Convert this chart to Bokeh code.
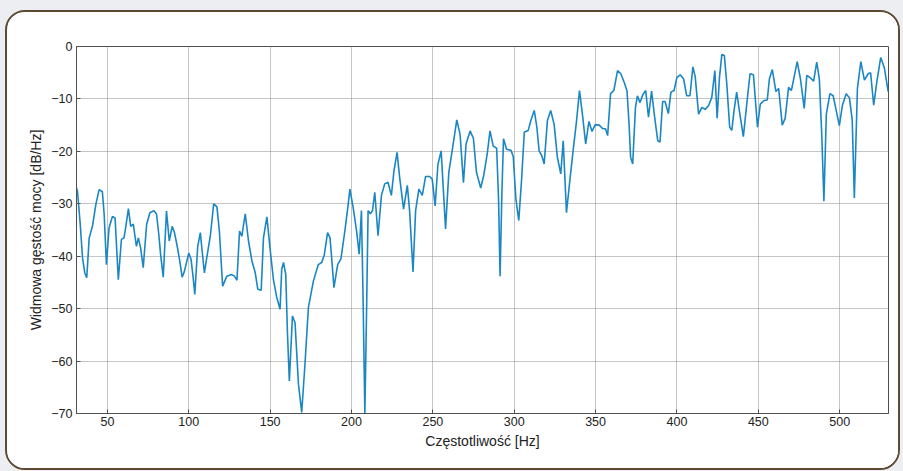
from bokeh.plotting import figure
from bokeh.models import FixedTicker, Range1d
from bokeh.embed import file_html
from bokeh.resources import INLINE

freq = [30.0, 31.6, 33.3, 34.7, 36.1, 37.3, 38.8, 40.8, 42.9, 44.9, 46.9, 48.0, 49.4, 51.0, 53.1, 54.7,
        56.7, 58.6, 60.2, 61.2, 62.9, 64.3, 65.9, 67.8, 69.0, 70.4, 72.0, 74.1, 76.1, 78.6, 80.2, 81.6,
        82.7, 84.3, 86.3, 88.0, 89.8, 91.2, 92.9, 94.5, 95.9, 97.3, 100.0, 101.4, 102.7, 103.7, 105.5,
        107.1, 108.2, 109.6, 111.2, 113.3, 115.3, 117.3, 118.8, 120.8, 123.4, 126.1, 128.1, 129.6, 131.2,
        132.6, 134.7, 136.7, 138.8, 140.8, 142.4, 144.5, 145.9, 148.0, 150.0, 152.0, 154.1, 156.1, 157.1,
        158.2, 159.6, 160.6, 161.8, 163.7, 165.3, 167.4, 169.4, 171.4, 173.5, 176.6, 179.6, 181.7, 183.3,
        185.3, 186.8, 187.8, 189.2, 191.5, 193.5, 196.0, 198.0, 199.0, 201.0, 203.1, 204.7, 206.1, 207.1,
        208.2, 209.2, 210.2, 211.6, 212.9, 214.3, 216.3, 218.4, 220.4, 222.4, 224.5, 226.1, 228.0, 229.6,
        232.0, 234.3, 235.7, 237.8, 239.4, 241.4, 243.5, 245.5, 248.0, 249.6, 251.4, 253.1, 255.1, 257.8,
        259.8, 262.2, 264.7, 266.7, 268.8, 270.4, 272.9, 274.9, 276.8, 279.4, 281.3, 283.4, 285.1, 287.1,
        289.2, 290.4, 291.3, 292.4, 293.4, 295.3, 298.0, 299.4, 301.0, 302.8, 304.6, 306.2, 308.6, 310.2,
        312.3, 313.9, 315.3, 316.9, 318.4, 320.4, 322.4, 324.5, 326.5, 328.6, 330.1, 332.1, 334.2, 336.5,
        338.3, 340.1, 342.0, 343.9, 345.9, 347.8, 349.8, 352.2, 354.4, 356.1, 357.4, 359.2, 361.2, 363.5,
        365.5, 367.8, 369.3, 370.6, 371.5, 372.8, 374.5, 375.7, 377.3, 379.0, 380.8, 382.5, 384.4, 386.3,
        388.2, 389.6, 391.2, 392.7, 394.7, 396.3, 398.2, 400.0, 402.0, 404.1, 406.0, 408.0, 409.8, 411.2,
        413.3, 415.3, 417.3, 419.4, 421.4, 423.3, 424.7, 426.1, 427.6, 429.1, 430.6, 432.4, 433.7, 435.1,
        436.7, 438.8, 440.8, 442.9, 444.9, 447.0, 449.5, 451.2, 453.5, 455.5, 456.8, 458.6, 460.8, 462.5,
        464.7, 466.5, 468.6, 470.3, 473.9, 475.9, 478.2, 479.8, 482.0, 484.0, 485.9, 487.5, 489.0, 490.3,
        491.8, 494.0, 496.0, 498.2, 499.8, 501.7, 504.0, 506.0, 507.7, 509.0, 510.9, 513.0, 515.2, 517.5,
        519.0, 520.9, 522.8, 525.2, 527.4, 529.8]

psd = [-26.0, -27.6, -33.9, -40.3, -43.2, -44.1, -36.5, -34.3, -30.1, -27.3, -27.7, -32.0, -41.6, -34.6,
       -32.4, -32.7, -44.5, -36.8, -36.5, -34.6, -30.9, -34.3, -33.9, -38.1, -36.5, -38.4, -42.2, -33.9,
       -31.7, -31.3, -32.0, -35.9, -39.7, -44.0, -31.4, -37.1, -34.3, -35.5, -38.1, -41.0, -44.0, -42.9,
       -39.4, -40.6, -44.1, -47.3, -38.1, -35.5, -39.0, -43.2, -40.0, -36.0, -30.0, -30.6, -35.2, -45.7,
       -43.8, -43.5, -43.8, -44.6, -35.2, -36.2, -31.9, -37.1, -40.9, -43.1, -46.3, -46.5, -36.5, -32.5,
       -38.7, -44.4, -47.9, -50.1, -42.5, -41.2, -43.5, -54.3, -63.8, -51.4, -52.7, -64.4, -69.8, -60.6,
       -49.8, -44.7, -41.6, -41.2, -39.7, -35.5, -36.5, -40.3, -46.0, -41.6, -40.5, -35.0, -30.0, -27.2,
       -30.7, -35.1, -39.6, -31.3, -47.8, -70.0, -51.6, -31.3, -31.9, -31.3, -27.8, -36.1, -28.4, -26.2,
       -25.9, -28.4, -23.7, -20.2, -25.0, -31.0, -26.5, -31.3, -43.0, -31.3, -27.2, -28.4, -24.8, -24.8,
       -25.3, -30.4, -22.5, -19.9, -34.8, -24.0, -19.2, -14.0, -16.7, -26.0, -18.6, -16.1, -17.5, -24.0,
       -27.0, -24.5, -20.5, -16.1, -19.0, -19.4, -29.4, -43.8, -28.2, -17.6, -19.6, -19.8, -21.0, -29.0,
       -33.2, -25.0, -16.3, -16.0, -14.1, -12.2, -15.4, -19.9, -20.8, -22.4, -14.1, -12.2, -14.8, -21.1,
       -24.3, -18.0, -31.7, -25.5, -19.0, -14.2, -8.4, -13.2, -18.6, -14.3, -16.2, -14.9, -15.0, -15.7,
       -15.7, -17.0, -9.0, -8.4, -4.6, -5.2, -7.0, -8.5, -15.0, -21.1, -22.4, -11.6, -9.4, -10.7, -9.2,
       -8.4, -13.5, -8.5, -13.5, -18.0, -18.2, -10.5, -10.5, -12.8, -8.7, -8.4, -5.9, -5.4, -6.2, -9.4,
       -9.4, -3.9, -5.7, -12.9, -11.6, -12.0, -11.3, -9.7, -4.6, -13.7, -6.0, -1.5, -1.7, -7.0, -15.4,
       -16.0, -12.2, -8.7, -13.2, -17.2, -11.0, -5.2, -5.4, -15.4, -11.0, -10.3, -10.2, -6.2, -4.4, -8.6,
       -8.0, -15.0, -13.7, -7.8, -8.4, -2.9, -6.2, -11.8, -5.5, -6.0, -6.6, -3.0, -6.2, -17.0, -29.5,
       -12.9, -9.0, -9.4, -12.7, -15.1, -11.2, -9.0, -9.8, -14.0, -28.9, -8.0, -2.9, -6.4, -5.2, -5.0,
       -11.2, -6.8, -2.1, -4.0, -8.6]

x_ticks = [50, 100, 150, 200, 250, 300, 350, 400, 450, 500]
y_ticks = [0, -10, -20, -30, -40, -50, -60, -70]
x_label = "Częstotliwość [Hz]"
y_label = "Widmowa gęstość mocy [dB/Hz]"

FONT = "Liberation Sans"

p = figure(width=891, height=456, output_backend="svg", toolbar_location=None,
           x_range=Range1d(31, 530), y_range=Range1d(-70, 0),
           min_border_left=69, min_border_right=14, min_border_top=34, min_border_bottom=59)

# rounded card with a grey surrounding (CSS on the figure's host element)
p.styles = {
    "box-sizing": "content-box",
    "margin-left": "5px",
    "margin-top": "10px",
    "border": "2px solid #5c4a33",
    "border-radius": "20px",
    "overflow": "hidden",
    "box-shadow": "0 0 0 60px #eceef1",
}

p.background_fill_color = "white"
p.border_fill_color = "white"
p.outline_line_color = "#505050"
p.outline_line_width = 1

p.line(freq, psd, line_color="#1a86c4", line_width=1.6)

for ax in (p.xaxis[0], p.yaxis[0]):
    ax.major_label_text_font = FONT
    ax.major_label_text_font_size = "12.5px"
    ax.major_label_text_color = "#222222"
    ax.axis_label_text_font = FONT
    ax.axis_label_text_font_size = "14px"
    ax.axis_label_text_font_style = "normal"
    ax.axis_label_text_color = "#222222"
    ax.axis_line_color = "#505050"
    ax.major_tick_line_color = "#505050"
    ax.major_tick_in = 4
    ax.major_tick_out = 0
    ax.minor_tick_line_color = None

p.xaxis.ticker = FixedTicker(ticks=x_ticks)
p.yaxis.ticker = FixedTicker(ticks=y_ticks)
p.xaxis.axis_label = x_label
p.yaxis.axis_label = y_label
p.xaxis.major_label_standoff = 3
p.xaxis.axis_label_standoff = 4
p.yaxis.major_label_standoff = 4
p.yaxis.axis_label_standoff = 4

for g in (p.xgrid[0], p.ygrid[0]):
    g.grid_line_color = "#8a8a8a"
    g.grid_line_dash = "1 1"
    g.grid_line_width = 1
    g.grid_line_alpha = 1.0

open("out.html", "w").write(file_html(p, INLINE))
